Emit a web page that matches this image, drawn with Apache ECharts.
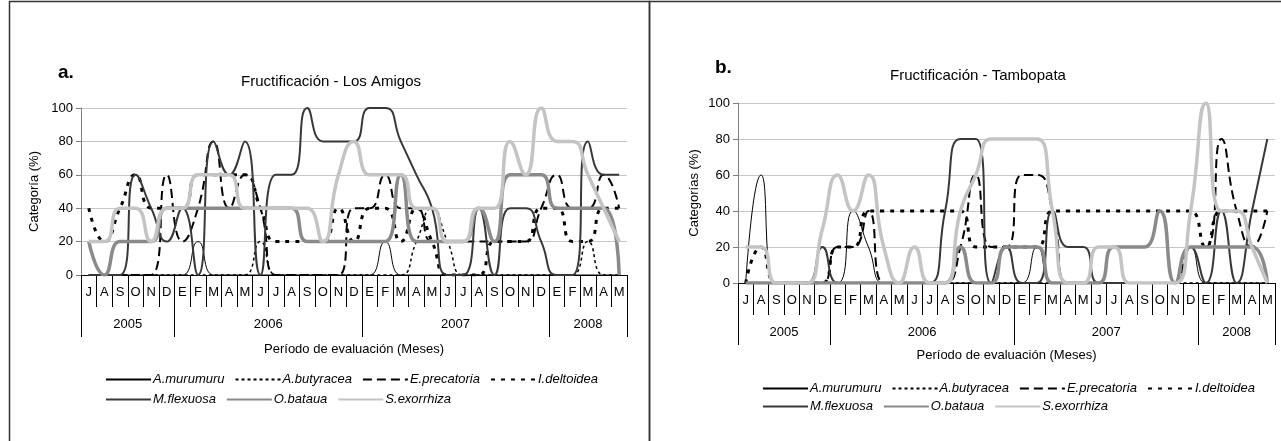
<!DOCTYPE html>
<html>
<head>
<meta charset="utf-8">
<script src="https://cdn.jsdelivr.net/npm/echarts@6/dist/echarts.min.js"></script>
<style>
  html, body { margin: 0; padding: 0; background: #fff; }
  #chart { width: 1281px; height: 441px; }
</style>
</head>
<body>
<div id="chart"></div>
<script>
// meses J 2005 .. M 2008
var months = ['J','A','S','O','N','D','E','F','M','A','M','J','J','A','S','O','N','D','E','F','M','A','M','J','J','A','S','O','N','D','E','F','M','A','M'];
var yearLabels = ['2005', '2006', '2007', '2008'];
var yearBounds = [0, 6, 18, 30, 35];
var names = ['A.murumuru', 'A.butyracea', 'E.precatoria', 'I.deltoidea', 'M.flexuosa', 'O.bataua', 'S.exorrhiza'];

// a. Los Amigos
var amuA = [0,0,0,0,0,0,0,20,0,0, 0,0,0,0,0,0,0,0,0,20, 0,0,0,0,0,0,0,0,0,0, 0,0,0,0,0];
var abuA = [0,0,0,0,0,0,0,0,0,0, 0,20,0,0,0,0,0,0,0,0, 0,20,40,20,0,0,0,0,0,0, 0,0,20,0,0];
var eprA = [0,0,0,0,0,60,20,40,80,40, 60,40,0,0,0,0,0,40,40,60, 40,40,20,20,20,20,20,20,20,40, 60,40,40,60,40];
var idlA = [40,20,40,60,40,40,40,60,60,60, 60,40,20,20,20,20,40,20,40,40, 20,40,20,0,0,0,20,20,20,40, 40,20,20,40,40];
var mflA = [0,0,0,60,40,20,40,0,80,60, 80,0,60,60,100,80,80,80,100,100, 80,60,40,0,0,40,0,40,40,20, 0,0,80,60,60];
var obaA = [20,0,20,20,20,40,40,40,40,40, 40,40,40,40,20,20,20,20,20,20, 60,20,20,20,20,40,20,60,60,60, 40,40,40,40,0];
var sexA = [20,20,40,40,20,40,40,60,60,60, 40,40,40,40,40,20,60,80,60,60, 60,40,40,20,20,40,40,80,60,100, 80,80,60,40,20];

// b. Tambopata
var amuB = [0,60,0,0,0,0,0,40,20,0, 0,0,0,0,0,0,0,0,0,20, 0,0,0,0,0,0,0,0,0,20, 0,0,0,0,0];
var abuB = [0,0,0,0,0,0,0,0,0,0, 0,0,0,0,0,0,0,0,0,0, 0,0,0,0,0,0,0,0,0,0, 0,0,0,0,0];
var eprB = [0,0,0,0,0,0,20,20,40,0, 0,0,0,0,20,60,20,20,60,60, 40,0,0,0,0,0,0,0,0,20, 20,80,40,20,40];
var idlB = [0,20,0,0,0,0,20,20,40,40, 40,40,40,40,40,20,20,20,20,20, 40,40,40,40,40,40,40,40,40,40, 20,40,40,40,40];
var mflB = [0,0,0,0,0,20,0,0,0,0, 0,0,0,40,80,80,0,20,0,0, 40,20,20,0,0,0,0,0,0,20, 0,40,0,40,80];
var obaB = [0,0,0,0,0,0,0,0,0,0, 0,0,0,0,20,0,0,20,20,20, 0,0,0,0,20,20,20,40,0,20, 20,20,20,20,0];
var sexB = [20,20,0,0,0,30,60,40,60,20, 0,20,0,0,40,60,80,80,80,80, 40,0,0,20,20,0,0,0,0,40, 100,40,40,20,0];

var font = 'Liberation Sans, Arial, sans-serif';

// estilo de cada especie (mismo orden que names)
var styles = [
  { color: '#000', width: 1, type: 'solid' },
  { color: '#000', width: 1.5, type: [3, 3] },
  { color: '#000', width: 2, type: [9, 5] },
  { color: '#000', width: 3, type: [4, 6] },
  { color: '#383838', width: 2, type: 'solid' },
  { color: '#8a8a8a', width: 3.5, type: 'solid' },
  { color: '#c4c4c4', width: 3.5, type: 'solid' }
];

var panelA = [amuA, abuA, eprA, idlA, mflA, obaA, sexA];
var panelB = [amuB, abuB, eprB, idlB, mflB, obaB, sexB];

var yearMid = [];
for (var k = 0; k < yearLabels.length; k++) {
  yearMid.push((yearBounds[k] + yearBounds[k + 1]) / 2);
}

function monthAxis(gi) {
  return {
    type: 'category',
    gridIndex: gi,
    position: 'bottom',
    offset: 0,
    data: months,
    boundaryGap: true,
    axisLine: { lineStyle: { color: '#000', width: 1 } },
    axisTick: { show: true, interval: 0, length: 32, lineStyle: { color: '#000' } },
    axisLabel: { interval: 0, margin: 11, fontSize: 13, color: '#000', fontFamily: font }
  };
}

function yearAxis(gi, gap) {
  return {
    type: 'value',
    gridIndex: gi,
    position: 'bottom',
    offset: 0,
    min: 0,
    max: 35,
    name: 'Período de evaluación (Meses)',
    nameLocation: 'middle',
    nameGap: gap,
    nameTextStyle: { fontSize: 13, color: '#000', fontFamily: font },
    axisLine: { show: false },
    splitLine: { show: false },
    axisTick: { show: true, length: 62, customValues: yearBounds, lineStyle: { color: '#000' } },
    axisLabel: {
      customValues: yearMid,
      margin: 43,
      fontSize: 13,
      color: '#000',
      fontFamily: font,
      formatter: function (v) {
        return yearLabels[yearMid.indexOf(v)];
      }
    }
  };
}

function valueAxis(gi, label, gap) {
  return {
    type: 'value',
    gridIndex: gi,
    min: 0,
    max: 100,
    interval: 20,
    name: label,
    nameLocation: 'middle',
    nameGap: gap,
    nameTextStyle: { fontSize: 13, color: '#000', fontFamily: font },
    axisLine: { show: true, lineStyle: { color: '#808080' } },
    axisTick: { show: true, length: 5, lineStyle: { color: '#808080' } },
    axisLabel: { fontSize: 13, color: '#000', margin: 8, fontFamily: font },
    splitLine: { show: true, lineStyle: { color: '#c8c8c8', width: 1 } }
  };
}

var series = [];
function addSeries(list, axisIndex) {
  for (var i = 0; i < names.length; i++) {
    series.push({
      name: names[i],
      type: 'line',
      xAxisIndex: axisIndex,
      yAxisIndex: axisIndex / 2,
      data: list[i],
      smooth: 0.55,
      symbol: 'none',
      animation: false,
      lineStyle: { color: styles[i].color, width: styles[i].width, type: styles[i].type },
      itemStyle: { color: styles[i].color }
    });
  }
}
addSeries(panelA, 0);
addSeries(panelB, 2);

function legendRow(items, left, top) {
  return {
    data: items,
    left: left,
    top: top,
    orient: 'horizontal',
    itemWidth: 45,
    itemHeight: 10,
    itemGap: 10,
    selectedMode: false,
    itemStyle: { opacity: 0 },
    textStyle: { fontSize: 13, fontStyle: 'italic', color: '#000', fontFamily: font, padding: [0, 0, 0, -3] }
  };
}

let option = {
  backgroundColor: '#fff',
  animation: false,
  textStyle: { fontFamily: font },
  title: [
    { text: 'a.', left: 53, top: 58, textStyle: { fontSize: 19, fontWeight: 'bold', color: '#000', fontFamily: font } },
    { text: 'Fructificación - Los Amigos', left: 236, top: 69, textStyle: { fontSize: 15, fontWeight: 'normal', color: '#000', fontFamily: font } },
    { text: 'b.', left: 710, top: 53, textStyle: { fontSize: 19, fontWeight: 'bold', color: '#000', fontFamily: font } },
    { text: 'Fructificación - Tambopata', left: 885, top: 63, textStyle: { fontSize: 15, fontWeight: 'normal', color: '#000', fontFamily: font } }
  ],
  legend: [
    legendRow(names.slice(0, 4), 100, 368),
    legendRow(names.slice(4), 100, 388),
    legendRow(names.slice(0, 4), 757, 377),
    legendRow(names.slice(4), 757, 395)
  ],
  grid: [
    { left: 81, top: 108, width: 546, height: 167 },
    { left: 738, top: 103, width: 537, height: 180 }
  ],
  xAxis: [monthAxis(0), yearAxis(0, 68), monthAxis(1), yearAxis(1, 66)],
  yAxis: [valueAxis(0, 'Categoría (%)', 40), valueAxis(1, 'Categorías (%)', 37)],
  series: series,
  graphic: [
    { type: 'rect', shape: { x: 9.5, y: 1.5, width: 640, height: 470 }, style: { fill: 'none', stroke: '#333', lineWidth: 1.5 } },
    { type: 'rect', shape: { x: 649.5, y: 1.5, width: 640, height: 470 }, style: { fill: 'none', stroke: '#333', lineWidth: 1.5 } }
  ]
};

let myChart = echarts.init(document.getElementById('chart'));
myChart.setOption(option);
</script>
</body>
</html>
